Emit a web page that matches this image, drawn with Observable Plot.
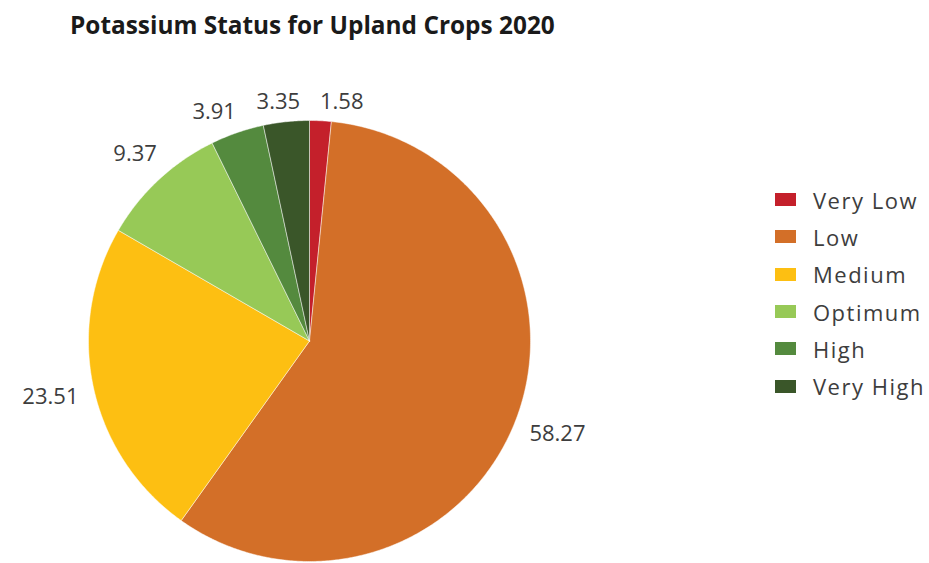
<!DOCTYPE html>
<html>
<head>
<meta charset="utf-8">
<script src="https://cdn.jsdelivr.net/npm/d3@7"></script>
<script src="https://cdn.jsdelivr.net/npm/@observablehq/plot@0.6"></script>
<style>
  html, body { margin: 0; padding: 0; background: #fff; }
  #wrap { position: relative; width: 929px; height: 563px; overflow: hidden; font-family: "Open Sans", sans-serif; }
  #title { position: absolute; left: 70px; top: 9px; font-size: 24.4px; font-weight: 700; color: #1a1a1a; line-height: 1.3; }
  #legend { position: absolute; left: 775px; top: 181px; }
  .row { display: flex; align-items: center; height: 37.3px; }
  .sw { width: 21px; height: 13px; margin-right: 17px; }
  .lab { font-size: 22px; color: #3d3d3d; letter-spacing: 1.5px; }
  #chart { position: absolute; left: 0; top: 0; }
</style>
</head>
<body>
<div id="wrap">
  <div id="chart"></div>
  <div id="title"></div>
  <div id="legend"></div>
</div>
<script>
const titleText = "Potassium Status for Upland Crops 2020";
const categories = ["Very Low", "Low", "Medium", "Optimum", "High", "Very High"];
const values = [1.58, 58.27, 23.51, 9.37, 3.91, 3.35];
const colors = ["#C4202B", "#D36F28", "#FDBF12", "#97C957", "#548A3E", "#3A5629"];

document.getElementById("title").textContent = titleText;

const total = d3.sum(values);
const R = 221;          // pixel radius used for label spacing
const fs = 22;          // label font size
let cum = 0;
const pts = [];
const labs = [];
categories.forEach((cat, i) => {
  const a0 = cum / total * 2 * Math.PI;
  cum += values[i];
  const a1 = cum / total * 2 * Math.PI;
  pts.push({cat, x: 0, y: 0});
  const n = Math.max(2, Math.ceil((a1 - a0) / (Math.PI / 360)));
  for (let k = 0; k <= n; k++) {
    const a = a0 + (a1 - a0) * k / n;
    pts.push({cat, x: Math.sin(a), y: Math.cos(a)});
  }
  pts.push({cat, x: 0, y: 0});
  const txt = values[i].toFixed(2);
  labs.push({phi: (a0 + a1) / 2, text: txt, w: txt.length * 0.49 * fs, h: 18});
});

// place a label box just outside the rim at angle phi (pixels, y down)
function place(l) {
  const s = Math.sin(l.phi), c = Math.cos(l.phi);
  const rc = R + 8 + Math.abs(s) * (l.w / 2 + 8) + Math.abs(c) * l.h / 2;
  l.px = rc * s; l.py = -rc * c;
}
labs.forEach(place);
// simple collision avoidance: rotate overlapping labels apart
const padX = 20, padY = 10, step = 0.003;
for (let it = 0; it < 600; it++) {
  let moved = false;
  for (let i = 0; i < labs.length; i++) {
    for (let j = i + 1; j < labs.length; j++) {
      const A = labs[i], B = labs[j];
      const ox = (A.w + B.w) / 2 + padX - Math.abs(A.px - B.px);
      const oy = (A.h + B.h) / 2 + padY - Math.abs(A.py - B.py);
      if (ox > 0 && oy > 0) {
        let d = B.phi - A.phi;
        while (d > Math.PI) d -= 2 * Math.PI;
        while (d < -Math.PI) d += 2 * Math.PI;
        const sgn = d >= 0 ? 1 : -1;
        A.phi -= sgn * step; B.phi += sgn * step;
        place(A); place(B);
        moved = true;
      }
    }
  }
  if (!moved) break;
}
const labels = labs.map(l => ({x: l.px / R, y: -l.py / R, text: l.text}));

const chart = Plot.plot({
  width: 929,
  height: 563,
  marginLeft: 88,
  marginRight: 399,
  marginTop: 120,
  marginBottom: 2,
  style: {fontFamily: "Open Sans", background: "transparent"},
  x: {domain: [-1, 1], axis: null},
  y: {domain: [-1, 1], axis: null},
  color: {domain: categories, range: colors},
  marks: [
    Plot.line(pts, {x: "x", y: "y", z: "cat", fill: "cat", stroke: "#ffffff", strokeWidth: 0.8, strokeOpacity: 0.6, curve: "linear"}),
    Plot.text(labels, {x: "x", y: "y", text: "text", fontSize: fs, fill: "#3d3d3d"})
  ]
});
document.getElementById("chart").appendChild(chart);

const leg = document.getElementById("legend");
categories.forEach((c, i) => {
  const row = document.createElement("div");
  row.className = "row";
  const sw = document.createElement("div");
  sw.className = "sw";
  sw.style.background = colors[i];
  const lab = document.createElement("div");
  lab.className = "lab";
  lab.textContent = c;
  row.appendChild(sw);
  row.appendChild(lab);
  leg.appendChild(row);
});
</script>
</body>
</html>
